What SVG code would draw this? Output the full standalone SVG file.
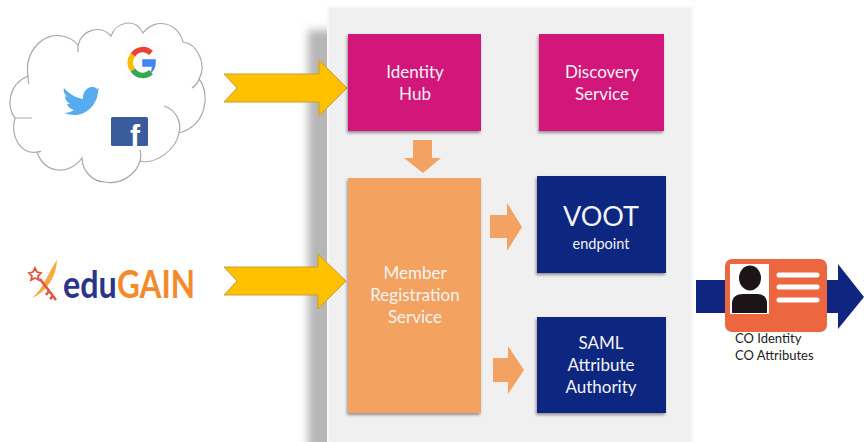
<svg xmlns="http://www.w3.org/2000/svg" width="864" height="442" viewBox="0 0 864 442">
<style>
.t{font-family:"Lato","Carlito","Open Sans",sans-serif;fill:#f4f4f4;font-size:17px;text-anchor:middle}
.cap{font-family:"Lato","Open Sans",sans-serif;fill:#222;font-size:13px}
.eg{font-family:"Lato","Open Sans",sans-serif;font-size:38px;font-weight:700}
.yel{fill:#ffc000;stroke:#c8a02a;stroke-width:1}
.org{fill:#f4a261}
.navy{fill:#0f2580}
.box{filter:url(#sh)}
.cl{fill:#fff;stroke:#a8a8a8;stroke-width:1.2}
.cn{fill:none;stroke:#a8a8a8;stroke-width:1.2}
.ln{stroke:#fff;stroke-width:5;stroke-linecap:round}
</style>
<defs>
<filter id="sh" x="-10%" y="-10%" width="125%" height="125%"><feDropShadow dx="-1" dy="2" stdDeviation="1.5" flood-color="#000" flood-opacity=".4"/></filter>
<filter id="bl" x="-100%" y="-10%" width="300%" height="120%"><feGaussianBlur stdDeviation="4.5"/></filter>
</defs>
<rect width="864" height="442" fill="#fff"/>
<g id="panel">
<rect x="308" y="30" width="32" height="440" fill="#b6b6b6" filter="url(#bl)"/>
<rect x="327" y="6" width="367" height="436" fill="#f8f8f8"/>
<rect x="329" y="8" width="362" height="434" fill="#f0f0f0"/>
</g>
<g id="cloud">
<path class="cl" d="M28,76C24,50 45,32 62,36C68,37 74,40 78,45C82,30 100,24 111,36C116,22 135,17 143,33C155,17 178,22 183,42C198,44 207,65 199,79C210,92 208,125 179,133C176,150 155,165 140,161C136,175 120,185 105,182C92,182 82,170 82,158C70,175 45,175 37,152C20,155 10,135 15,118C7,108 7,85 28,76Z"/>
<path class="cn" d="M199,79C198,83 195,86 192,88M164,106C176,110 182,122 179,133M140,161C141,157 141,153 140,150M37,152C38,152 40,152 41,151M15,118C20,118 26,118 32,118M28,76C28,79 28,82 29,84M78,45C78,48 78,50 78,52"/>
<g id="google">
<rect x="123" y="46" width="38" height="33" fill="#fdfdfd"/>
<path d="M151,53A11.5,11.5 0 0 0 133,55" fill="none" stroke="#ea4335" stroke-width="5.5"/>
<path d="M133,55A11.5,11.5 0 0 0 133,70" fill="none" stroke="#fbbc05" stroke-width="5.5"/>
<path d="M133,70A11.5,11.5 0 0 0 151,72" fill="none" stroke="#34a853" stroke-width="5.5"/>
<path d="M151,72A11.5,11.5 0 0 0 155,64V60H143V66H152" fill="#4285f4" stroke="#4285f4" stroke-width="1.5"/>
</g>
<path id="twitter" fill="#55acee" d="M64,88C70,95 77,98 83,99C82,92 88,86 93,87C95,87 96,88 97,89L99,88L98,91L98,92C97,105 86,115 75,115C71,115 67,114 64,113C68,113 71,112 74,110C70,109 68,107 67,104L70,104C67,102 65,100 65,96L68,97C64,94 63,91 64,88Z"/>
<g id="facebook">
<rect x="111" y="117" width="37" height="29" rx="1.5" fill="#3b5c9c"/>
<text x="135" y="146" font-family="Liberation Sans,sans-serif" font-weight="700" font-size="30" fill="#fff" text-anchor="middle">f</text>
</g>
</g>
<g id="edugain">
<path d="M57,260C47,275 43,289 32,298C46,292 56,278 57,260Z" fill="#f7a93c"/>
<path d="M40,279L56,300M49,291L46,295M53,296L50,299" stroke="#e2563f" stroke-width="2.5" fill="none"/>
<path d="M35,268L37,272L41,273L38,276L39,280L35,278L31,280L32,276L29,273L33,272Z" fill="#fff" stroke="#e2563f" stroke-width="1.8"/>
<text class="eg" transform="translate(63,298) scale(.85,1)" fill="#2a3488">edu</text>
<text class="eg" transform="translate(117,298) scale(.83,1)" fill="#f58a2c">GAIN</text>
</g>
<g id="connectors">
<path class="yel" d="M224,74H319V60L347,88L319,116V102H224L237,88Z"/>
<path class="yel" d="M224,267H318V254L346,281L318,309V295H224L237,281Z"/>
<path class="org" d="M413,140H432V158H441L423,173L404,158H413Z"/>
<path class="org" d="M490,215H507V203L522,227L507,251V238H490Z"/>
<path class="org" d="M493,358H508V346L524,370L508,394V382H493Z"/>
<path class="navy" d="M696,280H838V264L864,297L838,329V313H696Z"/>
</g>
<g id="identity-hub"><rect class="box" x="348" y="34" width="133" height="97" fill="#d2177a"/><text class="t" x="415" y="78">Identity</text><text class="t" x="415" y="100">Hub</text></g>
<g id="discovery-service"><rect class="box" x="539" y="34" width="125" height="97" fill="#d2177a"/><text class="t" x="602" y="78">Discovery</text><text class="t" x="602" y="100">Service</text></g>
<g id="member-registration"><rect class="box" x="348" y="178" width="133" height="235" fill="#f4a261"/><text class="t" x="415" y="279">Member</text><text class="t" x="415" y="301">Registration</text><text class="t" x="415" y="323">Service</text></g>
<g id="voot"><rect class="box" x="537" y="176" width="129" height="97" fill="#0f2580"/><text class="t" x="601" y="226" style="font-size:27px">VOOT</text><text class="t" x="601" y="249" style="font-size:14.5px">endpoint</text></g>
<g id="saml"><rect class="box" x="537" y="317" width="129" height="96" fill="#0f2580"/><text class="t" x="601" y="349">SAML</text><text class="t" x="601" y="371">Attribute</text><text class="t" x="601" y="393">Authority</text></g>
<g id="card">
<rect x="725" y="259" width="102" height="73" rx="7" fill="#ec6640"/>
<rect x="730" y="264" width="39" height="50" fill="#fff"/>
<ellipse cx="750" cy="278" rx="11" ry="12.5" fill="#1c1416"/>
<path d="M732,313V303C732,297 737,294 743,294H757C763,294 767,297 767,303V313Z" fill="#1c1416"/>
<path class="ln" d="M779,275H817M779,287H817M779,300H817"/>
<text class="cap" x="735" y="343">CO Identity</text>
<text class="cap" x="735" y="360">CO Attributes</text>
</g>
</svg>
